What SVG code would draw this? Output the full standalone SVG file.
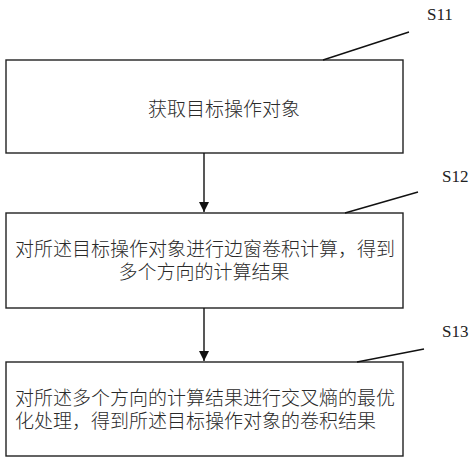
<svg xmlns="http://www.w3.org/2000/svg" width="474" height="464" viewBox="0 0 474 464">
<defs>
<marker id="ah" viewBox="0 0 10 10" refX="10" refY="5" markerWidth="10" markerHeight="10" markerUnits="userSpaceOnUse" orient="auto">
<path d="M0,0 L10,5 L0,10 z" fill="#111"/>
</marker>
<style>
.box{fill:#fff;stroke:#222;stroke-width:1.4}
.t{font-family:"Liberation Sans","Noto Sans CJK SC",sans-serif;font-size:19px;font-weight:300;fill:#2a2a2a}
.lbl{font-family:"Liberation Serif",serif;font-size:17px;fill:#222}
.ln{stroke:#111;stroke-width:1.4;fill:none}
</style>
</defs>
<rect width="474" height="464" fill="#fff"/>
<g id="n1">
<rect class="box" x="6" y="60" width="397" height="93"/>
<text class="t" x="224" y="116" text-anchor="middle">获取目标操作对象</text>
<line class="ln" x1="323" y1="60" x2="409" y2="32"/>
<text class="lbl" x="427" y="20">S11</text>
</g>
<g id="n2">
<rect class="box" x="6" y="213" width="397" height="95"/>
<text class="t" x="15" y="256">对所述目标操作对象进行边窗卷积计算，得到</text>
<text class="t" x="204" y="279" text-anchor="middle">多个方向的计算结果</text>
<line class="ln" x1="345" y1="213" x2="418" y2="192"/>
<text class="lbl" x="442" y="182">S12</text>
</g>
<g id="n3">
<rect class="box" x="6" y="362" width="397" height="94"/>
<text class="t" x="15" y="405">对所述多个方向的计算结果进行交叉熵的最优</text>
<text class="t" x="15" y="428">化处理，得到所述目标操作对象的卷积结果</text>
<line class="ln" x1="357" y1="362" x2="424" y2="349"/>
<text class="lbl" x="442" y="337">S13</text>
</g>
<g id="connectors">
<line class="ln" x1="204" y1="153" x2="204" y2="212" marker-end="url(#ah)"/>
<line class="ln" x1="204" y1="308" x2="204" y2="361" marker-end="url(#ah)"/>
</g>
</svg>
